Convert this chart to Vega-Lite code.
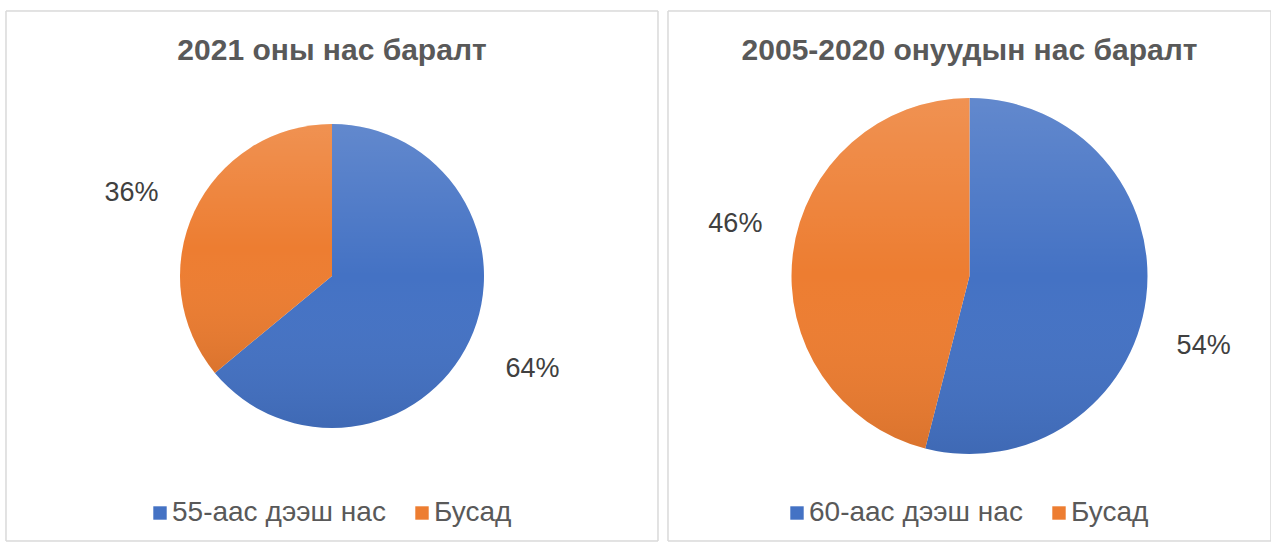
{
  "$schema": "https://vega.github.io/schema/vega-lite/v6.json",
  "padding": {"left": 5, "top": 10, "right": 3, "bottom": 2},
  "background": "white",
  "spacing": 8,
  "config": {
    "view": {"stroke": null},
    "font": "Liberation Sans",
    "title": {"fontSize": 30, "fontWeight": "bold", "color": "#595959", "font": "Liberation Sans", "anchor": "middle", "offset": -55},
    "legend": {"labelFont": "Liberation Sans"}
  },
  "resolve": {"scale": {"color": "independent", "theta": "independent"}, "legend": {"color": "independent"}},
  "datasets": {
    "y2021": [
      {"cat": "55-аас дээш нас", "share": 0.64},
      {"cat": "Бусад", "share": 0.36}
    ],
    "y2005": [
      {"cat": "60-аас дээш нас", "share": 0.54},
      {"cat": "Бусад", "share": 0.46}
    ]
  },
  "hconcat": [
    {
      "width": 652,
      "height": 530,
      "data": {"name": "y2021"},
      "title": {"text": "2021 оны нас баралт"},
      "layer": [
        {
          "mark": {"type": "rect", "fill": null, "stroke": "#d9d9d9", "strokeWidth": 1},
          "encoding": {}
        },
        {
          "mark": {"type": "arc", "outerRadius": 152},
          "encoding": {
            "theta": {"field": "share", "type": "quantitative", "stack": true},
            "order": {"field": "cat", "type": "ordinal", "sort": "ascending"},
            "color": {
              "field": "cat", "type": "nominal",
              "scale": {"domain": ["55-аас дээш нас", "Бусад"], "range": ["#4472C4", "#ED7D31"]},
              "legend": {"title": null, "orient": "none", "legendX": 140, "legendY": 488, "direction": "horizontal", "symbolType": "square", "symbolSize": 180, "symbolStrokeWidth": 0, "labelFontSize": 28, "labelColor": "#595959", "labelLimit": 400, "columnPadding": 22, "labelOffset": -2}
            }
          }
        },
        {
          "mark": {"type": "arc", "outerRadius": 152, "fill": {"gradient": "linear", "x1": 0, "y1": 0, "x2": 0, "y2": 1, "stops": [{"offset": 0, "color": "rgba(255,255,255,0.16)"}, {"offset": 0.5, "color": "rgba(255,255,255,0)"}, {"offset": 1, "color": "rgba(0,0,0,0.08)"}]}},
          "encoding": {
            "theta": {"field": "share", "type": "quantitative", "stack": true},
            "order": {"field": "cat", "type": "ordinal", "sort": "ascending"}
          }
        },
        {
          "mark": {"type": "text", "radius": 219, "thetaOffset": -0.025, "dy": 5, "fontSize": 27, "color": "#404040", "align": "center", "baseline": "middle"},
          "encoding": {
            "theta": {"field": "share", "type": "quantitative", "stack": true},
            "order": {"field": "cat", "type": "ordinal", "sort": "ascending"},
            "text": {"field": "share", "type": "quantitative", "format": ".0%"}
          }
        }
      ]
    },
    {
      "width": 603,
      "height": 530,
      "data": {"name": "y2005"},
      "title": {"text": "2005-2020 онуудын нас баралт"},
      "layer": [
        {
          "mark": {"type": "rect", "fill": null, "stroke": "#d9d9d9", "strokeWidth": 1},
          "encoding": {}
        },
        {
          "mark": {"type": "arc", "outerRadius": 178},
          "encoding": {
            "theta": {"field": "share", "type": "quantitative", "stack": true},
            "order": {"field": "cat", "type": "ordinal", "sort": "ascending"},
            "color": {
              "field": "cat", "type": "nominal",
              "scale": {"domain": ["60-аас дээш нас", "Бусад"], "range": ["#4472C4", "#ED7D31"]},
              "legend": {"title": null, "orient": "none", "legendX": 115, "legendY": 488, "direction": "horizontal", "symbolType": "square", "symbolSize": 180, "symbolStrokeWidth": 0, "labelFontSize": 28, "labelColor": "#595959", "labelLimit": 400, "columnPadding": 22, "labelOffset": -2}
            }
          }
        },
        {
          "mark": {"type": "arc", "outerRadius": 178, "fill": {"gradient": "linear", "x1": 0, "y1": 0, "x2": 0, "y2": 1, "stops": [{"offset": 0, "color": "rgba(255,255,255,0.16)"}, {"offset": 0.5, "color": "rgba(255,255,255,0)"}, {"offset": 1, "color": "rgba(0,0,0,0.08)"}]}},
          "encoding": {
            "theta": {"field": "share", "type": "quantitative", "stack": true},
            "order": {"field": "cat", "type": "ordinal", "sort": "ascending"}
          }
        },
        {
          "mark": {"type": "text", "radius": 242, "thetaOffset": 0.13, "dy": 9, "fontSize": 27, "color": "#404040", "align": "center", "baseline": "middle"},
          "encoding": {
            "theta": {"field": "share", "type": "quantitative", "stack": true},
            "order": {"field": "cat", "type": "ordinal", "sort": "ascending"},
            "text": {"field": "share", "type": "quantitative", "format": ".0%"}
          }
        }
      ]
    }
  ]
}
